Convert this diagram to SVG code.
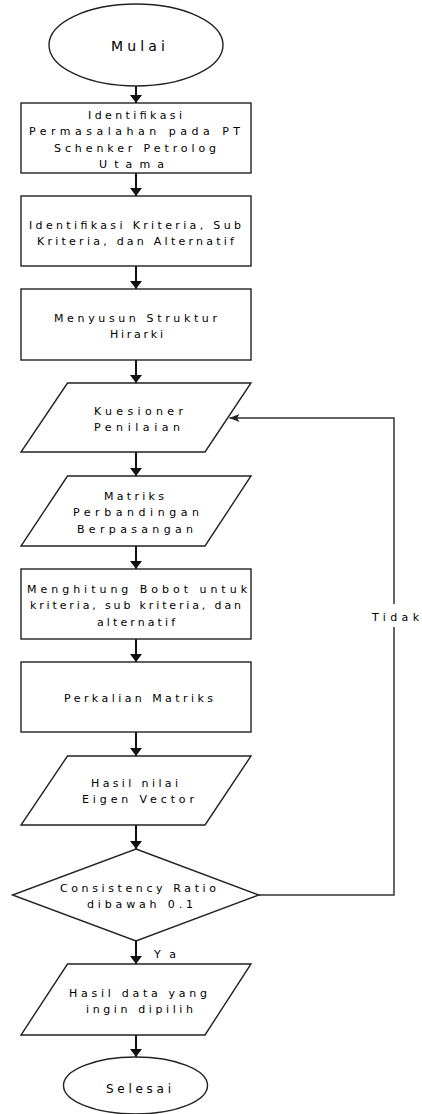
<svg xmlns="http://www.w3.org/2000/svg" width="422" height="1114" viewBox="0 0 422 1114">
<style>
.s{fill:#fff;stroke:#222;stroke-width:1.4}
.t{font-family:"DejaVu Sans",Verdana,sans-serif;font-size:11px;fill:#000}
.c{fill:none;stroke:#111;stroke-width:2}
.f{fill:none;stroke:#333;stroke-width:1.5}
</style>
<defs>
<marker id="ah" markerUnits="userSpaceOnUse" viewBox="0 0 8 12" markerWidth="8" markerHeight="12" refX="8" refY="6" orient="auto">
<path d="M0,0 L8,6 L0,12 z" fill="#111"/>
</marker>
<marker id="ah2" markerUnits="userSpaceOnUse" viewBox="0 0 10 8" markerWidth="10" markerHeight="8" refX="10" refY="4" orient="auto">
<path d="M0,0 L10,4 L0,8 L2.5,4 z" fill="#222"/>
</marker>
</defs>
<g id="connectors">
<path class="c" d="M136,86 V103" marker-end="url(#ah)"/>
<path class="c" d="M136,173 V196" marker-end="url(#ah)"/>
<path class="c" d="M136,266 V289" marker-end="url(#ah)"/>
<path class="c" d="M136,360 V383" marker-end="url(#ah)"/>
<path class="c" d="M136,452 V476" marker-end="url(#ah)"/>
<path class="c" d="M136,546 V569" marker-end="url(#ah)"/>
<path class="c" d="M136,639 V662" marker-end="url(#ah)"/>
<path class="c" d="M136,732 V756" marker-end="url(#ah)"/>
<path class="c" d="M136,825 V849" marker-end="url(#ah)"/>
<path class="c" d="M136,941 V964" marker-end="url(#ah)"/>
<path class="c" d="M136,1035 V1057" marker-end="url(#ah)"/>
<path class="f" d="M259,895 H394 V418 H229.5" marker-end="url(#ah2)"/>
<rect x="368" y="604" width="54" height="23" fill="#fff"/>
<text class="t" x="372" y="621" textLength="47" lengthAdjust="spacing">Tidak</text>
<text class="t" x="154" y="958" textLength="22" lengthAdjust="spacing">Ya</text>
</g>
<g id="mulai">
<ellipse class="s" cx="136" cy="45" rx="87" ry="41"/>
<text class="t" style="font-size:14px" x="111" y="50.5" textLength="54" lengthAdjust="spacing">Mulai</text>
</g>
<g id="identifikasi-masalah">
<rect class="s" x="21" y="103" width="230" height="70"/>
<text class="t" x="88" y="119" textLength="94" lengthAdjust="spacing">Identifikasi</text>
<text class="t" x="29" y="135" textLength="211" lengthAdjust="spacing">Permasalahan pada PT</text>
<text class="t" x="54" y="151.5" textLength="162" lengthAdjust="spacing">Schenker Petrolog</text>
<text class="t" x="99" y="168" textLength="65" lengthAdjust="spacing">Utama</text>
</g>
<g id="identifikasi-kriteria">
<rect class="s" x="21" y="196" width="230" height="70"/>
<text class="t" x="29" y="229" textLength="212" lengthAdjust="spacing">Identifikasi Kriteria, Sub</text>
<text class="t" x="37" y="245" textLength="197" lengthAdjust="spacing">Kriteria, dan Alternatif</text>
</g>
<g id="struktur-hirarki">
<rect class="s" x="21" y="289" width="230" height="71"/>
<text class="t" x="54" y="321.5" textLength="163" lengthAdjust="spacing">Menyusun Struktur</text>
<text class="t" x="110" y="338" textLength="53" lengthAdjust="spacing">Hirarki</text>
</g>
<g id="kuesioner">
<polygon class="s" points="67.5,383 251,383 205,452 21,452"/>
<text class="t" x="94" y="415" textLength="89" lengthAdjust="spacing">Kuesioner</text>
<text class="t" x="94" y="431" textLength="86" lengthAdjust="spacing">Penilaian</text>
</g>
<g id="matriks">
<polygon class="s" points="67.5,476 251,476 205,546 21,546"/>
<text class="t" x="104" y="500" textLength="60" lengthAdjust="spacing">Matriks</text>
<text class="t" x="73" y="516" textLength="126" lengthAdjust="spacing">Perbandingan</text>
<text class="t" x="77" y="532.5" textLength="116" lengthAdjust="spacing">Berpasangan</text>
</g>
<g id="bobot">
<rect class="s" x="21" y="569" width="230" height="70"/>
<text class="t" x="27" y="593" textLength="220" lengthAdjust="spacing">Menghitung Bobot untuk</text>
<text class="t" x="30" y="609" textLength="211" lengthAdjust="spacing">kriteria, sub kriteria, dan</text>
<text class="t" x="97" y="626" textLength="78" lengthAdjust="spacing">alternatif</text>
</g>
<g id="perkalian">
<rect class="s" x="21" y="662" width="230" height="70"/>
<text class="t" x="64" y="702" textLength="149" lengthAdjust="spacing">Perkalian Matriks</text>
</g>
<g id="eigen">
<polygon class="s" points="67.5,756 251,756 205,825 21,825"/>
<text class="t" x="91" y="787" textLength="87" lengthAdjust="spacing">Hasil nilai</text>
<text class="t" x="82" y="803" textLength="112" lengthAdjust="spacing">Eigen Vector</text>
</g>
<g id="consistency">
<polygon class="s" points="136,849 259,895 136,941 12.5,895"/>
<text class="t" x="60" y="891.5" textLength="156" lengthAdjust="spacing">Consistency Ratio</text>
<text class="t" x="87" y="907.5" textLength="106" lengthAdjust="spacing">dibawah 0.1</text>
</g>
<g id="hasil-data">
<polygon class="s" points="67.5,964 251,964 205,1035 21,1035"/>
<text class="t" x="69" y="997" textLength="138" lengthAdjust="spacing">Hasil data yang</text>
<text class="t" x="86" y="1013" textLength="107" lengthAdjust="spacing">ingin dipilih</text>
</g>
<g id="selesai">
<ellipse class="s" cx="135.5" cy="1085.5" rx="72" ry="28.5"/>
<text class="t" style="font-size:12px" x="106" y="1093" textLength="65" lengthAdjust="spacing">Selesai</text>
</g>
</svg>
